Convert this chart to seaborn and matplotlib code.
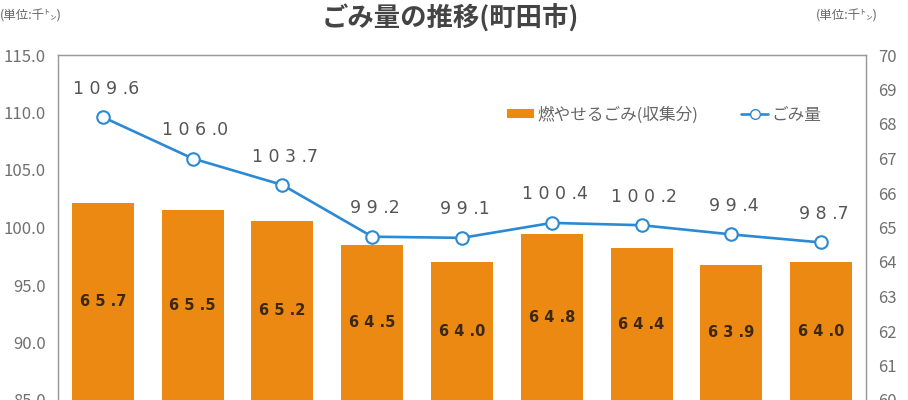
import matplotlib
matplotlib.use("Agg")
import matplotlib.pyplot as plt
import seaborn as sns
import pandas as pd
from matplotlib.patches import Patch
from matplotlib.lines import Line2D

# ---- data ----
categories = ["1", "2", "3", "4", "5", "6", "7", "8", "9"]
total_waste = [109.6, 106.0, 103.7, 99.2, 99.1, 100.4, 100.2, 99.4, 98.7]   # ごみ量 (left axis)
burnable = [65.7, 65.5, 65.2, 64.5, 64.0, 64.8, 64.4, 63.9, 64.0]          # 燃やせるごみ(収集分) (right axis)
left_ticks = [85.0, 90.0, 95.0, 100.0, 105.0, 110.0, 115.0]
right_ticks = [60, 61, 62, 63, 64, 65, 66, 67, 68, 69, 70]

title = "ごみ量の推移(町田市)"
unit_label = "(単位:千㌧)"
bar_name = "燃やせるごみ(収集分)"
line_name = "ごみ量"

df = pd.DataFrame({"cat": categories, "total": total_waste, "burn": burnable})

sns.set_theme(style="white")
plt.rcParams["font.family"] = ["Noto Sans CJK JP", "DejaVu Sans"]

BAR_C = "#EC8912"
LINE_C = "#2B8AD4"
TXT_C = "#707070"

fig = plt.figure(figsize=(9.08, 4.0), dpi=100)
ax = fig.add_axes([58 / 908, 0.0, 808 / 908, 345 / 400])
ax2 = ax.twinx()

# bars on right axis
sns.barplot(data=df, x="cat", y="burn", ax=ax2, color=BAR_C, width=0.69,
            saturation=1, edgecolor="none")
ax2.set_ylim(60, 70)
ax2.set_yticks(right_ticks)
ax2.set_yticklabels([f"{v}" for v in right_ticks])

# line on left axis
sns.lineplot(data=df, x="cat", y="total", ax=ax, color=LINE_C, linewidth=1.9,
             marker="o", markersize=9, markerfacecolor="white",
             markeredgecolor=LINE_C, markeredgewidth=1.5)
ax.set_ylim(85, 115)
ax.set_yticks(left_ticks)
ax.set_yticklabels([f"{v:.1f}" for v in left_ticks])
ax.set_zorder(ax2.get_zorder() + 1)
ax.patch.set_visible(False)

for a in (ax, ax2):
    a.set_xlim(-0.5, len(categories) - 0.5)
    a.set_xlabel("")
    a.set_ylabel("")
    a.set_xticks([])
    a.tick_params(axis="y", length=0, labelsize=12, labelcolor=TXT_C, pad=9)
    for s in a.spines.values():
        s.set_color("#9A9A9A")
        s.set_linewidth(0.9)
    a.spines["bottom"].set_visible(False)

def spaced(v):
    ip, dp = f"{v:.1f}".split(".")
    return " ".join(ip) + " ." + dp

# line value labels
for i, v in enumerate(total_waste):
    ax.annotate(spaced(v), (i, v), xytext=(2, 14), textcoords="offset points",
                ha="center", va="bottom", fontsize=12.5, color="#555555",
                family=["DejaVu Sans"])

# bar value labels (middle of bars)
for i, v in enumerate(burnable):
    ax2.text(i, (60 + v) / 2, spaced(v), ha="center", va="center",
             fontsize=10.5, fontweight="bold", color="#3A2812", family=["DejaVu Sans"])

# title and unit labels
fig.text(450 / 908, 1 - 19 / 400, title, ha="center", va="center", fontsize=19,
         fontweight="bold", color="#444444")
fig.text(0 / 908, 1 - 16 / 400, unit_label, ha="left", va="center", fontsize=9,
         color="#666666")
fig.text(816 / 908, 1 - 16 / 400, unit_label, ha="left", va="center", fontsize=9,
         color="#666666")

# legend
handles = [Patch(facecolor=BAR_C, edgecolor="none"),
           Line2D([0], [0], color=LINE_C, linewidth=1.9, marker="o", markersize=7,
                  markerfacecolor="white", markeredgecolor=LINE_C)]
fig.legend(handles, [bar_name, line_name], loc="center left",
           bbox_to_anchor=(492 / 908, 1 - 115 / 400), ncol=2, frameon=False,
           fontsize=12, labelcolor="#666666", handlelength=1.6, handletextpad=0.2,
           columnspacing=2.6, handleheight=0.5)

fig.savefig("out.png", dpi=100)
